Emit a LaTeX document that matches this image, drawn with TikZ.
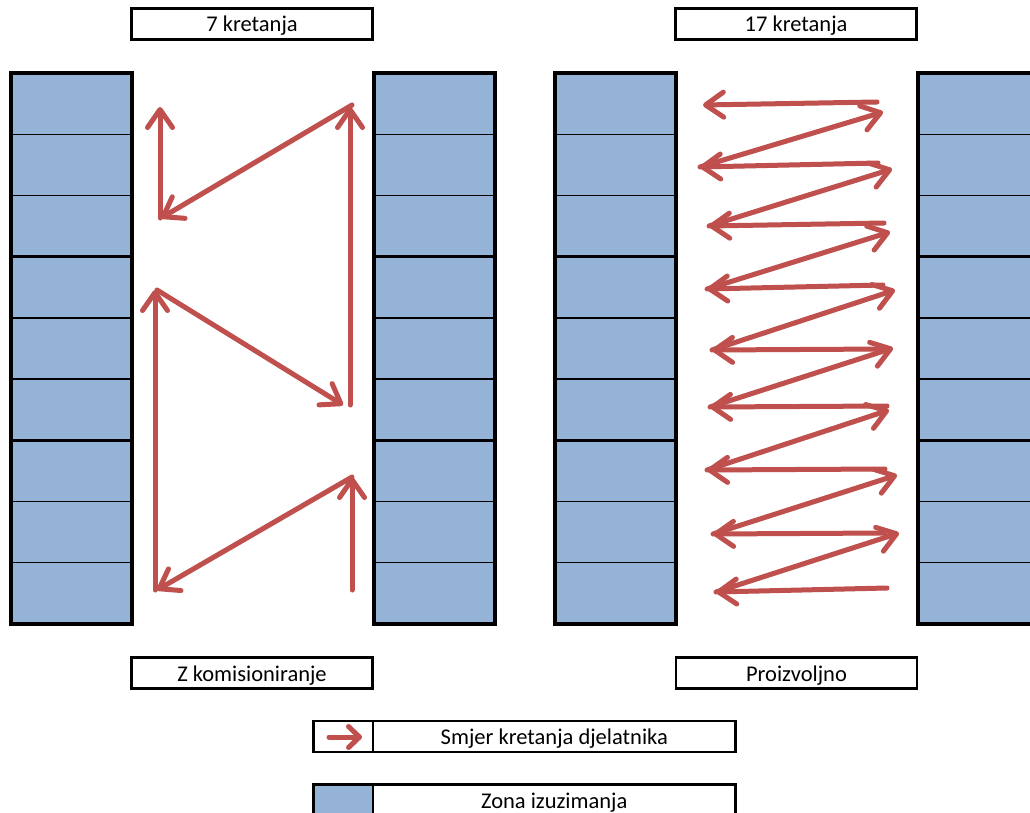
\documentclass[tikz,border=0pt]{standalone}
\usepackage{fontspec}
\setmainfont{Carlito}
\usetikzlibrary{arrows.meta,calc}
\definecolor{mvred}{HTML}{C0504D}
\definecolor{zone}{HTML}{95B3D7}
\begin{document}
\begin{tikzpicture}[x=1pt,y=-1pt,
 rack/.style={draw=black, line width=4pt, fill=zone, minimum width=121pt, minimum height=551pt, inner sep=0pt, outer sep=0pt},
 rowline/.style={draw=black, line width=1.3pt},
 grpline/.style={draw=black, line width=3pt},
 lbl/.style={draw=black, line width=2.5pt, fill=white, minimum width=241pt, minimum height=31pt, inner sep=0pt, outer sep=0pt, text height=18pt, text depth=2pt, font=\fontsize{22.5}{24}\selectfont},
 mv/.style={draw=mvred, line width=5pt, line cap=round, -{Straight Barb[length=18pt,width=25pt,round]},
   preaction={draw=black, opacity=0.15, transform canvas={shift={(1.5pt,-2pt)}}}},
]
\useasboundingbox (0,0) rectangle (1030,813);
\clip (0,0) rectangle (1030,813);
\fill[white] (0,0) rectangle (1030,813);

% racks
\node[rack] (r1) at (71,348.5) {};
\node[rack] (r2) at (434.5,348.5) {};
\node[rack] (r3) at (615.5,348.5) {};
\node[rack] (r4) at (978.5,348.5) {};
\foreach \r in {r1,r2,r3,r4}{
  \foreach \k in {1,2,4,5,7,8}{
    \draw[rowline] ($(\r.north west)!{\k/9}!(\r.south west)$) -- ($(\r.north east)!{\k/9}!(\r.south east)$);
  }
  \foreach \k in {3,6}{
    \draw[grpline] ($(\r.north west)!{\k/9}!(\r.south west)$) -- ($(\r.north east)!{\k/9}!(\r.south east)$);
  }
}

% labels
\node[lbl] (t1) at (252,24) {7 kretanja};
\node[lbl] (t2) at (796,24) {17 kretanja};
\node[lbl] (b1) at (252,673) {Z komisioniranje};
\node[lbl] (b2) at (796.5,673) {Proizvoljno};

% legend
\node[lbl, minimum width=59.5pt] (l1a) at (343.25,736.5) {};
\node[lbl, minimum width=362.5pt] (l1b) at (554.25,736.5) {Smjer kretanja djelatnika};
\node[lbl, minimum width=59.5pt, fill=zone] (l2a) at (343.25,800) {};
\node[lbl, minimum width=362.5pt] (l2b) at (554.25,800) {Zona izuzimanja};
\coordinate (la0) at (329,737);
\coordinate (la1) at (362,737);
\draw[mv, -{Straight Barb[length=11pt,width=21pt,round]}] (la0) -- (la1);

% left panel: Z picking (7 movements)
\coordinate (a0) at (352,590);
\coordinate (a1) at (352,477);
\coordinate (a2) at (157,590);
\coordinate (a2b) at (155,590);
\coordinate (a3) at (155,290);
\coordinate (a3b) at (157,290);
\coordinate (a4) at (343,405);
\coordinate (a4b) at (350,405);
\coordinate (a5) at (350,107);
\coordinate (a5b) at (352,105);
\coordinate (a6) at (161,218);
\coordinate (a6b) at (160,218);
\coordinate (a7) at (160,107);
\draw[mv] (a0) -- (a1);
\draw[mv] (a1) -- (a2);
\draw[mv] (a2b) -- (a3);
\draw[mv] (a3b) -- (a4);
\draw[mv] (a4b) -- (a5);
\draw[mv] (a5b) -- (a6);
\draw[mv] (a6b) -- (a7);

% right panel: arbitrary (17 movements)
\coordinate (h9s) at (887,588); \coordinate (h9e) at (716,592);
\coordinate (d8e) at (899,533);
\coordinate (h8s) at (885,533); \coordinate (h8e) at (713,534);
\coordinate (d7e) at (897,475);
\coordinate (h7s) at (885,469); \coordinate (h7e) at (707,470);
\coordinate (d6e) at (889,410);
\coordinate (h6s) at (887,406); \coordinate (h6e) at (710,407);
\coordinate (d5e) at (893,348);
\coordinate (h5s) at (887,349); \coordinate (h5e) at (712,350);
\coordinate (d4e) at (895,290);
\coordinate (h4s) at (883,285); \coordinate (h4e) at (707,289);
\coordinate (d3e) at (890,232);
\coordinate (h3s) at (884,223); \coordinate (h3e) at (709,226);
\coordinate (d2e) at (892,169);
\coordinate (h2s) at (878,163); \coordinate (h2e) at (700,167);
\coordinate (d1e) at (883,112);
\coordinate (h1s) at (877,102); \coordinate (h1e) at (703,105);

\draw[mv] (h9s) -- (h9e);
\draw[mv] (h9e) -- (d8e);
\draw[mv] (h8s) -- (h8e);
\draw[mv] (h8e) -- (d7e);
\draw[mv] (h7s) -- (h7e);
\draw[mv] (h7e) -- (d6e);
\draw[mv] (h6s) -- (h6e);
\draw[mv] (h6e) -- (d5e);
\draw[mv] (h5s) -- (h5e);
\draw[mv] (h5e) -- (d4e);
\draw[mv] (h4s) -- (h4e);
\draw[mv] (h4e) -- (d3e);
\draw[mv] (h3s) -- (h3e);
\draw[mv] (h3e) -- (d2e);
\draw[mv] (h2s) -- (h2e);
\draw[mv] (h2e) -- (d1e);
\draw[mv] (h1s) -- (h1e);
\end{tikzpicture}
\end{document}
